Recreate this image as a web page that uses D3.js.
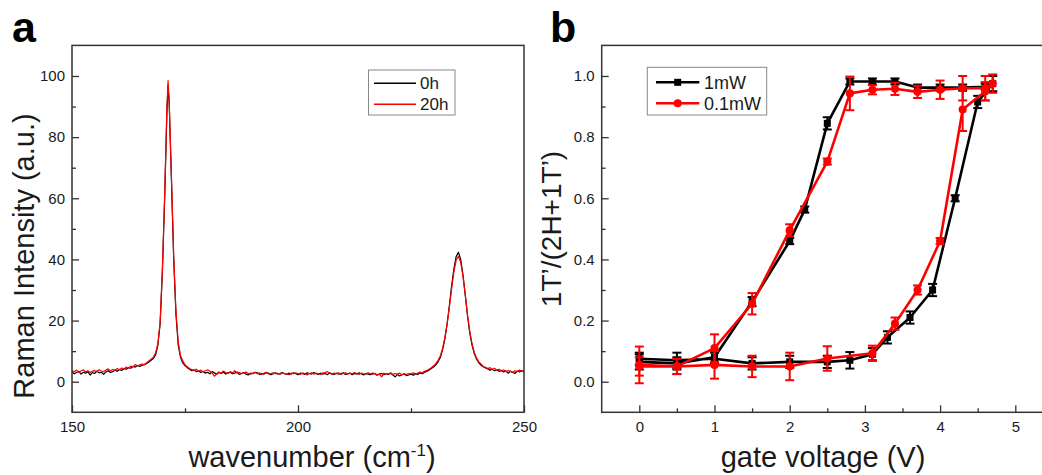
<!DOCTYPE html>
<html>
<head>
<meta charset="utf-8">
<script src="https://cdn.jsdelivr.net/npm/d3@7"></script>
<style>
  body { margin: 0; background: #fff; }
  svg { display: block; font-family: "Liberation Sans", Arial, sans-serif; }
</style>
</head>
<body>
<script>
// ---- panel a: Raman spectra ----
var wavenumber = [
  150,150.5,151,151.5,152,152.5,153,153.5,154,154.5,
  155,155.5,156,156.5,157,157.5,158,158.5,159,159.5,
  160,160.5,161,161.5,162,162.5,163,163.5,164,164.5,
  165,165.5,166,166.5,167,167.5,168,168.5,169,169.5,
  170,170.5,171,171.25,171.5,172,172.5,173,173.5,174,174.5,
  175,175.5,176,176.5,177,177.5,178,178.5,179,179.5,
  180,180.5,181,181.5,182,182.5,183,183.5,184,184.5,
  185,185.5,186,186.5,187,187.5,188,188.5,189,189.5,
  190,190.5,191,191.5,192,192.5,193,193.5,194,194.5,
  195,195.5,196,196.5,197,197.5,198,198.5,199,199.5,
  200,200.5,201,201.5,202,202.5,203,203.5,204,204.5,
  205,205.5,206,206.5,207,207.5,208,208.5,209,209.5,
  210,210.5,211,211.5,212,212.5,213,213.5,214,214.5,
  215,215.5,216,216.5,217,217.5,218,218.5,219,219.5,
  220,220.5,221,221.5,222,222.5,223,223.5,224,224.5,
  225,225.5,226,226.5,227,227.5,228,228.5,229,229.5,
  230,230.5,231,231.5,232,232.5,233,233.5,234,234.5,
  235,235.5,236,236.5,237,237.5,238,238.5,239,239.5,
  240,240.5,241,241.5,242,242.5,243,243.5,244,244.5,
  245,245.5,246,246.5,247,247.5,248,248.5,249,249.5,
  250
];
var raman0h = [
  3.2,2.6,3.0,3.4,2.5,3.1,2.8,3.3,2.2,3.0,
  2.7,3.5,2.9,3.1,2.4,3.2,3.6,3.0,3.3,3.8,
  3.4,4.0,3.7,4.3,4.1,4.6,4.4,5.0,4.8,5.3,
  5.0,5.4,5.6,6.0,6.4,7.0,7.6,8.8,12,19,
  36,60,88,97,91,66,40,22,12,8,6.2,
  5.3,4.6,4.1,3.6,3.9,3.3,3.5,3.0,3.4,2.8,
  3.1,2.6,3.3,2.9,2.4,3.0,2.7,3.2,2.5,2.9,
  3.1,2.6,2.8,3.2,2.4,2.7,3.0,2.5,2.2,2.8,
  2.6,3.1,2.9,2.4,2.7,2.5,3.0,2.8,2.3,2.6,
  2.9,2.5,2.7,3.0,2.6,2.4,2.8,2.5,2.9,2.6,
  2.3,2.8,2.6,2.4,2.9,2.7,2.5,3.0,2.6,2.4,
  2.8,2.5,2.7,2.3,2.9,2.6,2.4,2.8,2.5,2.7,
  2.9,2.4,2.6,2.8,2.3,2.7,2.5,2.9,2.6,2.2,
  2.7,2.5,2.3,2.8,2.6,2.1,2.5,2.7,2.3,2.6,
  2.4,2.8,2.2,1.6,2.4,1.9,2.3,2.5,2.0,2.2,
  2.5,2.1,2.7,2.4,2.9,2.6,3.1,3.4,3.8,4.3,
  4.8,5.5,6.5,8.0,10.5,14,19,25,31.5,37,
  41,42.3,40,35,28.5,21.5,16,12,9.2,7.4,
  6.2,5.4,4.9,4.5,4.2,3.8,4.1,3.6,3.9,3.4,
  3.7,3.2,3.5,2.8,3.4,3.1,2.7,3.5,3.2,3.6,
  3.3
];
var raman20h = [
  3.6,3.3,3.8,3.1,3.5,3.9,3.2,3.6,3.0,3.4,
  3.7,3.2,3.9,3.5,3.3,3.8,4.2,3.6,4.0,3.7,
  4.3,3.9,4.5,4.2,4.8,4.5,5.1,4.9,5.6,5.2,
  5.5,5.8,5.6,6.2,6.8,7.4,8.0,9.5,12.5,19.5,
  37,61,90,98.5,92,67,41,23,13,8.6,6.8,
  5.6,4.9,4.3,4.0,3.6,4.1,3.4,3.8,3.2,3.6,
  3.9,3.4,2.9,1.8,2.6,3.2,2.8,3.5,3.0,2.7,
  3.3,2.9,3.6,2.8,3.1,2.6,2.9,3.2,2.7,2.5,
  2.8,3.0,2.6,2.9,2.4,2.8,3.1,2.5,2.7,2.9,
  2.6,2.8,2.4,2.9,2.7,2.5,2.3,2.8,2.6,2.9,
  2.7,2.4,2.9,2.6,2.2,2.7,2.9,2.5,2.8,2.6,
  2.4,2.9,3.0,3.3,2.7,2.5,2.8,2.6,2.9,2.4,
  2.7,2.9,2.5,2.8,2.6,3.0,2.7,2.4,2.8,2.6,
  2.5,2.9,2.7,2.4,2.8,2.3,2.5,1.6,2.8,2.4,
  2.6,2.9,2.4,2.7,2.5,2.8,2.3,2.6,2.4,2.7,
  2.6,2.9,2.5,2.8,3.2,2.9,3.4,3.7,4.1,4.6,
  5.2,6.0,7.0,8.5,11,14.5,19,24.5,30.5,36,
  39.8,41,39,34.5,28.5,22,16.5,12.5,9.6,7.8,
  6.5,5.8,5.0,4.7,4.3,4.6,4.0,4.4,3.8,4.1,
  3.5,3.9,3.3,3.7,3.4,3.0,3.6,3.3,3.8,3.4,
  3.6
];
var ramanNames = ["0h", "20h"];
var ramanXTicks = [150, 200, 250];
var ramanXMinor = [175, 225];
var ramanYTicks = [0, 20, 40, 60, 80, 100];
var ramanYMinor = [10, 30, 50, 70, 90];

// ---- panel b: hysteresis ----
var volt1mW = [0,0.5,1,1.5,2,2.5,2.8,3.1,3.3,3.6,3.9,4.2,4.5,4.7,4.6,4.3,4.0,3.7,3.4,3.1,2.8,2.5,2.2,2.0,1.5,1.0,0.5,0];
var frac1mW = [0.075,0.07,0.075,0.06,0.065,0.065,0.07,0.09,0.145,0.21,0.30,0.60,0.915,0.975,0.965,0.962,0.962,0.962,0.982,0.982,0.982,0.845,0.563,0.46,0.262,0.08,0.06,0.065];
var err1mW  = [0.02,0.025,0.02,0.02,0.02,0.02,0.027,0.02,0.02,0.02,0.02,0.01,0.02,0.025,0.01,0.01,0.01,0.01,0.01,0.01,0.01,0.02,0.01,0.01,0.015,0.02,0.02,0.025];

var volt01mW = [0,0.5,1,1.5,2,2.5,3.1,3.4,3.7,4.0,4.3,4.6,4.7,4.6,4.3,4.0,3.7,3.4,3.1,2.8,2.5,2.0,1.5,1.0,0.5,0];
var frac01mW = [0.05,0.05,0.055,0.05,0.05,0.076,0.093,0.19,0.30,0.46,0.89,0.95,0.975,0.96,0.96,0.955,0.948,0.958,0.955,0.943,0.72,0.495,0.255,0.11,0.05,0.055];
var err01mW  = [0.03,0.025,0.045,0.035,0.045,0.04,0.025,0.02,0.015,0.01,0.07,0.03,0.03,0.04,0.04,0.03,0.02,0.02,0.015,0.055,0.01,0.02,0.035,0.045,0.025,0.06];

var gateNames = ["1mW", "0.1mW"];
var gateXTicks = [0, 1, 2, 3, 4, 5];
var gateXMinor = [0.5, 1.5, 2.5, 3.5, 4.5, 5.5];
var gateYTicks = [0, 0.2, 0.4, 0.6, 0.8, 1.0];
var gateYMinor = [0.1, 0.3, 0.5, 0.7, 0.9];

var width = 1042, height = 475;
var frameColor = "#333", textColor = "#1a1a1a";

var svg = d3.select("body").append("svg")
  .attr("width", width).attr("height", height);

function drawAxes(g, x, y, xt, xm, yt, ym, yfmt) {
  var xr = x.range(), yr = y.range();
  g.append("g").attr("transform", "translate(0," + yr[0] + ")")
    .call(d3.axisBottom(x).tickValues(xm).tickSize(-4).tickFormat(""))
    .call(styleAxis);
  g.append("g").attr("transform", "translate(0," + yr[0] + ")")
    .call(d3.axisBottom(x).tickValues(xt).tickSize(-7).tickPadding(9).tickFormat(d3.format("d")))
    .call(styleAxis);
  g.append("g").attr("transform", "translate(" + xr[0] + ",0)")
    .call(d3.axisLeft(y).tickValues(ym).tickSize(-4).tickFormat(""))
    .call(styleAxis);
  g.append("g").attr("transform", "translate(" + xr[0] + ",0)")
    .call(d3.axisLeft(y).tickValues(yt).tickSize(-7).tickPadding(7).tickFormat(yfmt))
    .call(styleAxis);
  g.append("rect")
    .attr("x", xr[0]).attr("y", yr[1])
    .attr("width", xr[1] - xr[0]).attr("height", yr[0] - yr[1])
    .attr("fill", "none").attr("stroke", frameColor).attr("stroke-width", 1.5);
}
function styleAxis(sel) {
  sel.select(".domain").remove();
  sel.selectAll(".tick line").attr("stroke", frameColor).attr("stroke-width", 1.3);
  sel.selectAll(".tick text").attr("fill", textColor)
    .attr("font-size", "15px").attr("font-family", "Liberation Sans, Arial, sans-serif");
}

// ================= panel a =================
var xa = d3.scaleLinear().domain([150, 250]).range([72, 524]);
var ya = d3.scaleLinear().domain([-10, 110]).range([412.3, 45.4]);
var ga = svg.append("g");

var spec = [raman0h, raman20h];
var specColor = ["#000000", "#ff0000"];
var line = d3.line().x(function(d) { return xa(d[0]); }).y(function(d) { return ya(d[1]); });
spec.forEach(function(s, i) {
  ga.append("path")
    .datum(wavenumber.map(function(w, j) { return [w, s[j]]; }))
    .attr("d", line).attr("fill", "none")
    .attr("stroke", specColor[i]).attr("stroke-width", 1.2)
    .attr("stroke-linejoin", "round");
});
drawAxes(ga, xa, ya, ramanXTicks, ramanXMinor, ramanYTicks, ramanYMinor, d3.format("d"));

// legend a
var la = ga.append("g");
la.append("rect").attr("x", 368.5).attr("y", 70).attr("width", 86.5).attr("height", 45)
  .attr("fill", "#fff").attr("stroke", "#888").attr("stroke-width", 1);
ramanNames.forEach(function(n, i) {
  var yy = 83.3 + i * 21;
  la.append("line").attr("x1", 374).attr("x2", 416).attr("y1", yy).attr("y2", yy)
    .attr("stroke", specColor[i]).attr("stroke-width", 1.5);
  la.append("text").attr("x", 420).attr("y", yy).attr("dy", "0.36em")
    .attr("font-size", "17px").attr("fill", textColor).text(n);
});

// titles a
svg.append("text").attr("x", 12).attr("y", 42)
  .attr("font-size", "43px").attr("font-weight", "bold").attr("fill", "#000").text("a");
var xta = svg.append("text").attr("x", 312).attr("y", 467)
  .attr("text-anchor", "middle").attr("font-size", "29px").attr("fill", textColor);
xta.append("tspan").text("wavenumber (cm");
xta.append("tspan").attr("font-size", "17px").attr("dy", -11).text("-1");
xta.append("tspan").attr("dy", 11).text(")");
svg.append("text")
  .attr("transform", "translate(34,256) rotate(-90)")
  .attr("text-anchor", "middle").attr("font-size", "29px").attr("fill", textColor)
  .text("Raman Intensity (a.u.)");

// ================= panel b =================
var xb = d3.scaleLinear().domain([-0.5, 5.5]).range([601.7, 1052.9]);
var yb = d3.scaleLinear().domain([-0.1, 1.1]).range([412.3, 45.4]);
var gb = svg.append("g");
drawAxes(gb, xb, yb, gateXTicks, gateXMinor, gateYTicks, gateYMinor, d3.format(".1f"));

var series = [
  { v: volt1mW, f: frac1mW, e: err1mW, color: "#000000", marker: "square" },
  { v: volt01mW, f: frac01mW, e: err01mW, color: "#ff0000", marker: "circle" }
];
var lineB = d3.line().x(function(d) { return xb(d.v); }).y(function(d) { return yb(d.f); });

series.forEach(function(s) {
  var pts = s.v.map(function(v, i) { return { v: v, f: s.f[i], e: s.e[i] }; });
  var gs = gb.append("g");
  gs.append("path").datum(pts).attr("d", lineB)
    .attr("fill", "none").attr("stroke", s.color).attr("stroke-width", 2.6)
    .attr("stroke-linejoin", "round");
  var eb = gs.selectAll("g.err").data(pts).enter().append("g")
    .attr("stroke", s.color).attr("stroke-width", 2);
  eb.append("line")
    .attr("x1", function(d) { return xb(d.v); }).attr("x2", function(d) { return xb(d.v); })
    .attr("y1", function(d) { return yb(d.f - d.e); }).attr("y2", function(d) { return yb(d.f + d.e); });
  [-1, 1].forEach(function(sg) {
    eb.append("line")
      .attr("x1", function(d) { return xb(d.v) - 4.5; }).attr("x2", function(d) { return xb(d.v) + 4.5; })
      .attr("y1", function(d) { return yb(d.f + sg * d.e); }).attr("y2", function(d) { return yb(d.f + sg * d.e); });
  });
  var sym = d3.symbol().type(s.marker === "square" ? d3.symbolSquare : d3.symbolCircle)
    .size(s.marker === "square" ? 49 : 52);
  gs.selectAll("path.m").data(pts).enter().append("path")
    .attr("d", sym)
    .attr("transform", function(d) { return "translate(" + xb(d.v) + "," + yb(d.f) + ")"; })
    .attr("fill", s.color);
});

// legend b
var lb = gb.append("g");
lb.append("rect").attr("x", 647.3).attr("y", 67.3).attr("width", 119.4).attr("height", 47.7)
  .attr("fill", "#fff").attr("stroke", "#888").attr("stroke-width", 1);
gateNames.forEach(function(n, i) {
  var yy = 82.3 + i * 21;
  var s = series[i];
  lb.append("line").attr("x1", 656).attr("x2", 699.3).attr("y1", yy).attr("y2", yy)
    .attr("stroke", s.color).attr("stroke-width", 2.6);
  lb.append("path")
    .attr("d", d3.symbol().type(s.marker === "square" ? d3.symbolSquare : d3.symbolCircle)
      .size(s.marker === "square" ? 49 : 52))
    .attr("transform", "translate(677.7," + yy + ")").attr("fill", s.color);
  lb.append("text").attr("x", 704).attr("y", yy).attr("dy", "0.36em")
    .attr("font-size", "18px").attr("fill", textColor).text(n);
});

// titles b
svg.append("text").attr("x", 550).attr("y", 42)
  .attr("font-size", "43px").attr("font-weight", "bold").attr("fill", "#000").text("b");
svg.append("text").attr("x", 823).attr("y", 467)
  .attr("text-anchor", "middle").attr("font-size", "29px").attr("fill", textColor)
  .text("gate voltage (V)");
svg.append("text")
  .attr("transform", "translate(561,229) rotate(-90)")
  .attr("text-anchor", "middle").attr("font-size", "28px").attr("fill", textColor)
  .text("1T\u2019/(2H+1T\u2019)");
</script>
</body>
</html>
